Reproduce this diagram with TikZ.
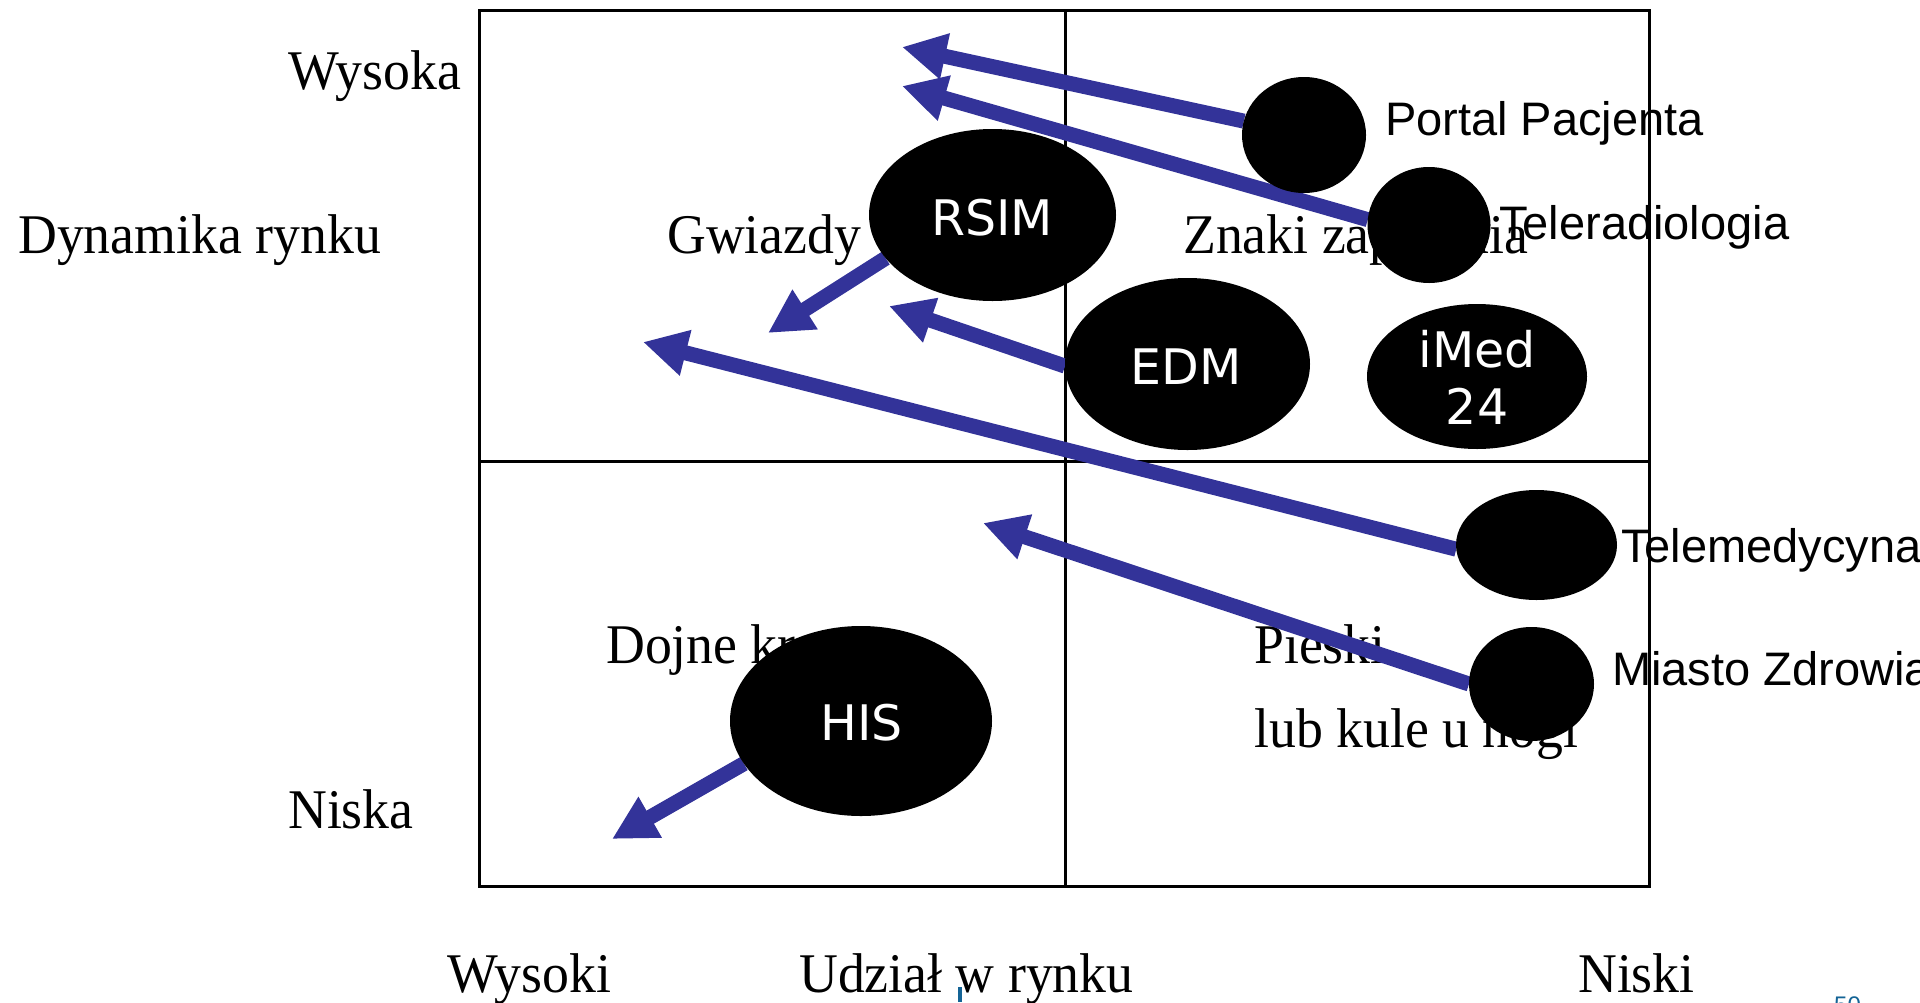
\documentclass[tikz,border=0pt]{standalone}
\usepackage{fontspec}
\setmainfont{Liberation Serif}[FakeStretch=0.96]
\newfontfamily\arialf{Liberation Sans}
\newfontfamily\verdf{DejaVu Sans}
\usetikzlibrary{shapes.geometric,arrows.meta}
\definecolor{arrowblue}{RGB}{51,51,153}
\definecolor{footblue}{RGB}{20,100,150}
\pgfdeclarelayer{bg}
\pgfdeclarelayer{mid}
\pgfsetlayers{bg,mid,main}
\begin{document}
\begin{tikzpicture}[x=1pt,y=-1pt,
  serif/.style={anchor=base west,inner sep=0pt,font=\fontsize{56}{60}\selectfont},
  sans/.style={anchor=base west,inner sep=0pt,font=\arialf\fontsize{47}{52}\selectfont},
  blob/.style={ellipse,fill=black,draw=none,inner sep=0pt,outer sep=0pt},
  inlbl/.style={text=white,inner sep=0pt,font=\verdf\fontsize{49}{57}\selectfont},
  arr/.style={draw=arrowblue,line width=15pt,-{Triangle[length=44pt,width=44pt]}},
  frame/.style={line width=3.5pt}]
\useasboundingbox (0,0) rectangle (1920,1002);

\begin{pgfonlayer}{bg}
  \draw[frame] (479.5,10.7) rectangle (1649.7,886.5);
  \draw[frame] (1065.3,10.7) -- (1065.3,886.5);
  \draw[frame] (479.5,461.7) -- (1649.7,461.7);
  \node[serif] (wysoka) at (288,89) {Wysoka};
  \node[serif] (dyn) at (18,253) {Dynamika rynku};
  \node[serif] (gwiazdy) at (667,253) {Gwiazdy};
  \node[serif] (znaki) at (1183,253) {Znaki zapytania};
  \node[serif] (dojne) at (606,663) {Dojne krowy};
  \node[serif] (pieski) at (1254,663) {Pieski};
  \node[serif] (kule) at (1254,747) {lub kule u nogi};
  \node[serif] (niska) at (288,828) {Niska};
  \node[serif] (wysoki) at (447,992) {Wysoki};
  \node[serif] (udzial) at (799,992) {Udział w rynku};
  \node[serif] (niski) at (1578,992) {Niski};
\end{pgfonlayer}

\node[blob,minimum width=124pt,minimum height=116pt] (portal) at (1304,135) {};
\node[blob,minimum width=123pt,minimum height=116pt] (tele) at (1429,225) {};
\node[blob,minimum width=247pt,minimum height=172pt] (rsim) at (992.5,215) {};
\node[blob,minimum width=245pt,minimum height=172pt] (edm) at (1187.5,364) {};
\node[blob,minimum width=220pt,minimum height=145pt] (imed) at (1477,376.5) {};
\node[blob,minimum width=161pt,minimum height=110pt] (telemed) at (1536.5,545) {};
\node[blob,minimum width=125pt,minimum height=114pt] (miasto) at (1531.5,684) {};
\node[blob,minimum width=262pt,minimum height=190pt] (his) at (861,721) {};

\node[inlbl,anchor=base] (rsimtxt) at (992,235) {RSIM};
\node[inlbl,anchor=base] (edmtxt) at (1186,384) {EDM};
\node[inlbl,anchor=center,align=center] (imedtxt) at (1477,377.5) {iMed\\24};
\node[inlbl,anchor=base] (histxt) at (861.5,740) {HIS};

\coordinate (tp1) at (902,47);
\coordinate (tp2) at (902,86);
\coordinate (tp3) at (768,333);
\coordinate (tp4) at (889,306);
\coordinate (tp5) at (643,342);
\coordinate (tp6) at (983,523);
\coordinate (tp7) at (612,839);

\begin{pgfonlayer}{mid}
  \draw[arr] (portal.167.6) -- (tp1);
  \draw[arr] (tele.175) -- (tp2);
  \draw[arr] (rsim.202) -- (tp3);
  \draw[arr] (edm.181) -- (tp4);
  \draw[arr] (telemed.183) -- (tp5);
  \draw[arr] (miasto.180.5) -- (tp6);
  \draw[arr] (his.200) -- (tp7);
\end{pgfonlayer}

\node[sans] (lportal) at (1385,135) {Portal Pacjenta};
\node[sans] (ltele) at (1499,239) {Teleradiologia};
\node[sans] (ltelemed) at (1621,562) {Telemedycyna};
\node[sans] (lmiasto) at (1612,685) {Miasto Zdrowia};

\begin{scope}
  \clip (0,0) rectangle (1920,1002);
  \fill[footblue] (958,987) rectangle (962,1002);
  \node[anchor=north west,inner sep=0pt,text=footblue,font=\arialf\fontsize{24}{28}\selectfont] (pagenum) at (1834,997) {50};
\end{scope}
\end{tikzpicture}
\end{document}
